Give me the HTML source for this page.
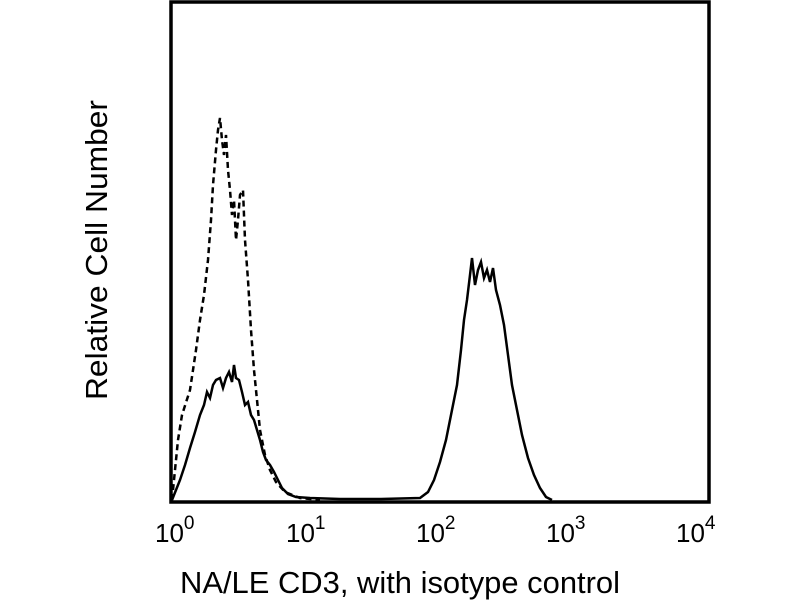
<!DOCTYPE html>
<html><head><style>
body{margin:0;background:#fff;width:800px;height:600px;overflow:hidden;font-family:"Liberation Sans",Arial,sans-serif}
</style></head><body>
<svg width="800" height="600" xmlns="http://www.w3.org/2000/svg">
<rect x="171" y="2" width="538" height="500" fill="none" stroke="#000" stroke-width="3.5"/>
<polyline fill="none" stroke="#000" stroke-width="2.5" stroke-dasharray="6,4" points="172,500 175,470 178,440 182,415 190,390 196,350 200,320 204,295 208,260 211,220 213,185 216,150 218,130 220,118 222,140 224,155 226,135 228,170 230,190 232,215 234,200 236,240 238,220 240,195 243,190 245,240 248,280 251,330 254,370 257,400 260,430 265,455 270,470 276,482 285,492 300,498 320,500"/>
<polyline fill="none" stroke="#000" stroke-width="2.5" points="172,500 176,490 180,480 185,465 190,448 195,432 200,415 204,405 207,392 210,398 213,385 216,380 220,378 223,388 226,378 229,372 232,382 234,365 236,378 239,380 242,392 245,405 248,402 251,415 254,420 257,430 260,440 263,452 266,460 270,465 274,472 278,480 282,488 288,494 296,497 310,498 340,499 380,499 420,498 428,492 434,480 440,462 446,440 452,410 457,385 461,350 464,320 467,300 470,275 472,258 475,285 478,270 481,262 484,278 487,270 490,282 493,268 496,290 500,305 504,325 508,355 512,385 517,410 522,435 528,458 534,475 540,488 546,497 552,500"/>
<g font-size="26" fill="#000">
<text x="155" y="542">10<tspan dy="-13" font-size="19">0</tspan></text>
<text x="286" y="542">10<tspan dy="-13" font-size="19">1</tspan></text>
<text x="416" y="542">10<tspan dy="-13" font-size="19">2</tspan></text>
<text x="546" y="542">10<tspan dy="-13" font-size="19">3</tspan></text>
<text x="676" y="542">10<tspan dy="-13" font-size="19">4</tspan></text>
</g>
<g font-size="31" fill="#000" text-anchor="middle">
<text x="400" y="593" textLength="440" lengthAdjust="spacingAndGlyphs">NA/LE CD3, with isotype control</text>
<text transform="translate(107,250) rotate(-90)" textLength="300" lengthAdjust="spacingAndGlyphs">Relative Cell Number</text>
</g>
</svg>
</body></html>
